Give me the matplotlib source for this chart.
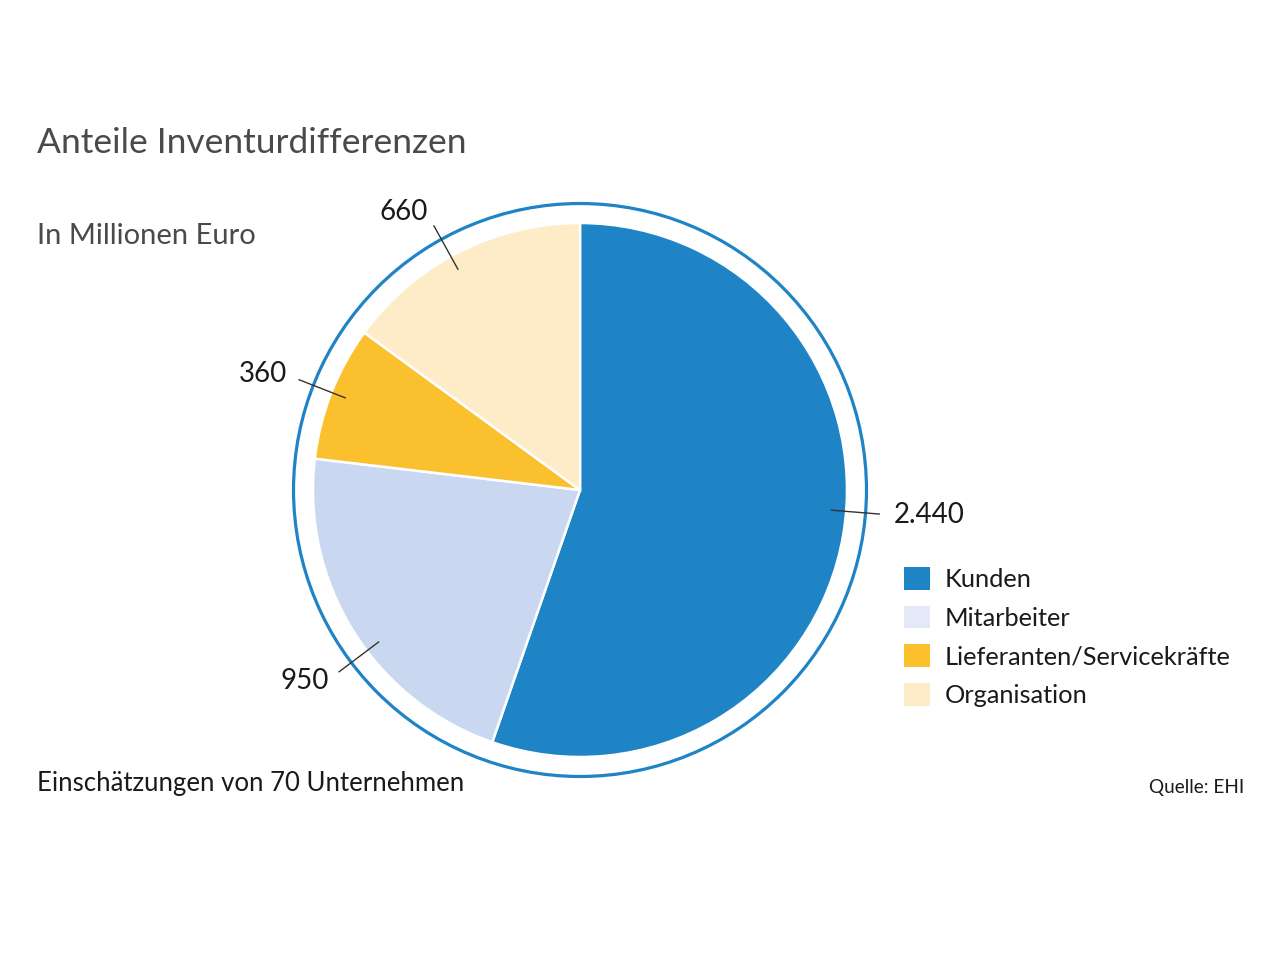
import matplotlib.pyplot as plt
from matplotlib.patches import Circle, Patch
import numpy as np

plt.rcParams['font.family'] = ['Lato', 'DejaVu Sans']

categories = ["Kunden", "Mitarbeiter", "Lieferanten/Servicekräfte", "Organisation"]
values = [2440, 950, 360, 660]
value_labels = ["2.440", "950", "360", "660"]
slice_colors = ["#1e84c6", "#c9d8f0", "#fbc02d", "#feecc8"]
legend_colors = ["#1e84c6", "#e3e9f7", "#fbc02d", "#feecc8"]

# small nudges of the label direction (degrees), as in the original layout
label_nudge = [5, 5, 0, 2]

fig = plt.figure(figsize=(12.8, 9.64), dpi=100)

# pie axes: centre at (580, 490) px, radius 267 px
half = 300
ax = fig.add_axes([(580 - half) / 1280, (964 - 490 - half) / 964, 2 * half / 1280, 2 * half / 964])

wedges, _ = ax.pie(values, colors=slice_colors, startangle=90, counterclock=False,
                   wedgeprops={'edgecolor': 'white', 'linewidth': 1.8})
lim = half / 267
ax.set_xlim(-lim, lim)
ax.set_ylim(-lim, lim)
ax.set_aspect('equal')
ax.axis('off')
ax.add_patch(Circle((0, 0), 1.073, fill=False, edgecolor="#1e84c6", linewidth=2.3))

# leader lines and value labels
for w, lab, nudge in zip(wedges, value_labels, label_nudge):
    ang = np.deg2rad((w.theta1 + w.theta2) / 2 + nudge)
    c, s = np.cos(ang), np.sin(ang)
    ax.plot([0.945 * c, 1.13 * c], [0.945 * s, 1.13 * s], color="#333333", linewidth=1.0)
    ha = 'left' if c > 0 else 'right'
    ax.text(1.18 * c, 1.19 * s, lab, ha=ha, va='center', fontsize=20, color="#1a1a1a")

fig.text(37 / 1280, 1 - 143 / 964, "Anteile Inventurdifferenzen", fontsize=25.5,
         color="#4a4a4a", ha='left', va='center')
fig.text(37 / 1280, 1 - 236 / 964, "In Millionen Euro", fontsize=21,
         color="#4a4a4a", ha='left', va='center')
fig.text(37 / 1280, 1 - 783 / 964, "Einschätzungen von 70 Unternehmen", fontsize=18.5,
         color="#1a1a1a", ha='left', va='center')
fig.text(1244 / 1280, 1 - 787 / 964, "Quelle: EHI", fontsize=13.7,
         color="#1a1a1a", ha='right', va='center')

handles = [Patch(facecolor=col, edgecolor='none') for col in legend_colors]
fig.legend(handles, categories, loc='upper left', bbox_to_anchor=(894 / 1280, 1 - 557 / 964),
           frameon=False, fontsize=18.3, handlelength=1.0, handleheight=1.0,
           labelspacing=0.57, handletextpad=0.6, borderaxespad=0, labelcolor="#1a1a1a")

fig.savefig("out.png", dpi=100)
